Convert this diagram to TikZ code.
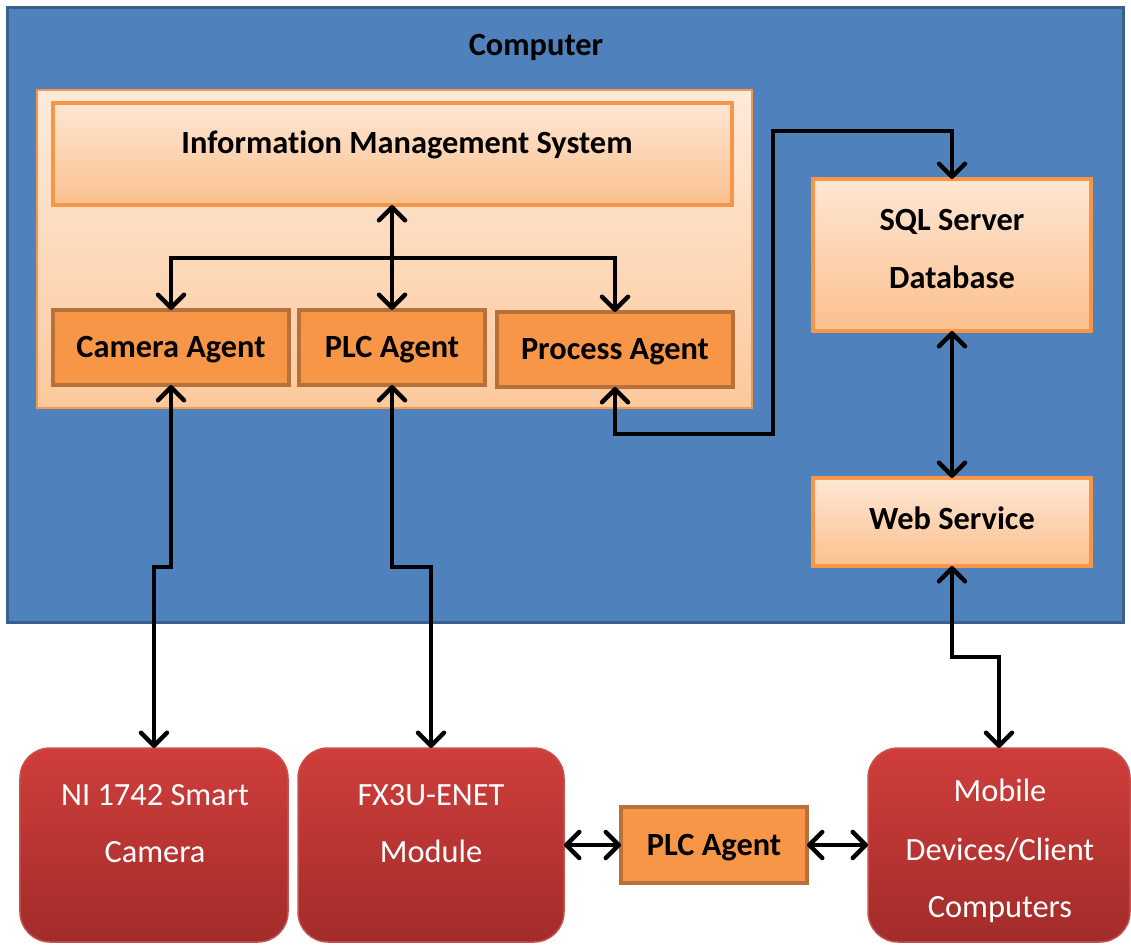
\documentclass[tikz,border=0pt]{standalone}
\usepackage{fontspec}
\setmainfont{Carlito}[Ligatures=NoCommon]
\usetikzlibrary{arrows.meta}

\definecolor{compblue}{HTML}{4F81BD}
\definecolor{compedge}{HTML}{3A6090}
\definecolor{peachtop}{HTML}{FEEBDC}
\definecolor{peachbot}{HTML}{FCC99C}
\definecolor{boxtop}{HTML}{FEE7D4}
\definecolor{boxbot}{HTML}{FBC08E}
\definecolor{orangeedge}{HTML}{F79646}
\definecolor{agentfill}{HTML}{F79646}
\definecolor{agentedge}{HTML}{B8713A}
\definecolor{redtop}{HTML}{CF3E3B}
\definecolor{redbot}{HTML}{A22C2A}
\definecolor{rededge}{HTML}{C8514E}

\tikzset{
  every node/.style={inner sep=0pt, outer sep=0pt},
  txt/.style={font=\fontsize{32.5}{38}\selectfont, text height=24bp, text depth=4bp},
  btxt/.style={txt, font=\fontsize{32.5}{38}\selectfont\bfseries},
  wtxt/.style={txt, text=white},
  container/.style={draw=compedge, line width=3bp, fill=compblue},
  panel/.style={draw=orangeedge, line width=1.5bp, top color=peachtop, bottom color=peachbot},
  gradbox/.style={draw=orangeedge, line width=4bp, top color=boxtop, bottom color=boxbot},
  agent/.style={btxt, draw=agentedge, line width=4bp, fill=agentfill},
  device/.style={draw=rededge, line width=1.5bp, rounded corners=30bp, top color=redtop, bottom color=redbot},
  link/.style={line width=4.5bp, line join=miter, <->},
  >={Straight Barb[length=13bp, width=26bp, round]}
}

\begin{document}
\begin{tikzpicture}[x=1bp, y=-1bp]
  \useasboundingbox (0,0) rectangle (1131,945);

  % computer frame
  \node[container, minimum width=1115bp, minimum height=614bp] (comp) at (565.5,315) {};
  \node[btxt] (complabel) at (536,45) {Computer};

  % application panel with its agents
  \node[panel, minimum width=715bp, minimum height=318bp] (panel) at (394.5,249) {};
  \node[gradbox, minimum width=679bp, minimum height=102bp] (ims) at (392.5,154) {};
  \node[btxt] (imslabel) at (407,143) {Information Management System};
  \node[agent, minimum width=236bp, minimum height=75bp] (cam) at (171,347.5) {Camera Agent};
  \node[agent, minimum width=186bp, minimum height=75bp] (plc) at (392,347.5) {PLC Agent};
  \node[agent, minimum width=236bp, minimum height=75bp] (proc) at (615,349.5) {Process Agent};

  % data services
  \node[gradbox, minimum width=278bp, minimum height=152bp] (sql) at (952,255) {};
  \node[btxt] (sqlA) at (952,220) {SQL Server};
  \node[btxt] (sqlB) at (952,278) {Database};
  \node[gradbox, minimum width=278bp, minimum height=88bp] (web) at (952,522) {};
  \node[btxt] (weblabel) at (952,519) {Web Service};

  % field devices
  \node[device, minimum width=268bp, minimum height=194bp] (ni) at (154,845) {};
  \node[wtxt] (niA) at (155,795) {NI 1742 Smart};
  \node[wtxt] (niB) at (155,852) {Camera};
  \node[device, minimum width=266bp, minimum height=194bp] (fx) at (431,845) {};
  \node[wtxt] (fxA) at (431,795) {FX3U-ENET};
  \node[wtxt] (fxB) at (431,852) {Module};
  \node[agent, minimum width=186bp, minimum height=76bp] (plc2) at (714,845) {PLC Agent};
  \node[device, minimum width=262bp, minimum height=194bp] (mob) at (999,845) {};
  \node[wtxt] (mobA) at (1000,791) {Mobile};
  \node[wtxt] (mobB) at (1000,850) {Devices/Client};
  \node[wtxt] (mobC) at (1000,907) {Computers};

  % routing levels
  \coordinate (bus) at (0,258);
  \coordinate (drop) at (0,567);
  \coordinate (lowrun) at (0,434);
  \coordinate (highrun) at (0,131);
  \coordinate (riser) at (773,0);
  \coordinate (webrun) at (0,657);

  % connectors
  \draw[link] (ims.south -| plc.north) -- (plc.north);
  \draw[link] (cam.north) -- (cam.north |- bus) -- (proc.north |- bus) -- (proc.north);
  \draw[link] (cam.south) -- (cam.south |- drop) -- (ni.north |- drop) -- (ni.north);
  \draw[link] (plc.south) -- (plc.south |- drop) -- (fx.north |- drop) -- (fx.north);
  \draw[link] (proc.south) -- (proc.south |- lowrun) -- (riser |- lowrun)
              -- (riser |- highrun) -- (sql.north |- highrun) -- (sql.north);
  \draw[link] (sql.south) -- (web.north);
  \draw[link] (web.south) -- (web.south |- webrun) -- (mob.north |- webrun) -- (mob.north);
  \draw[link] (fx.east) -- (plc2.west);
  \draw[link] (plc2.east) -- (mob.west);
\end{tikzpicture}
\end{document}
